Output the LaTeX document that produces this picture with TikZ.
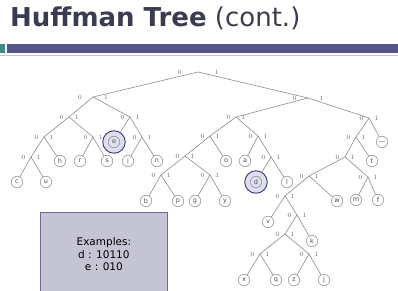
\documentclass[tikz,border=0pt]{standalone}
\usepackage{fontspec}
\newfontfamily\headfont{DejaVu Sans}
\newfontfamily\leaffont{DejaVu Sans}
\definecolor{titlec}{HTML}{3C3C50}
\definecolor{barblue}{HTML}{545488}
\definecolor{barteal}{HTML}{3D8A8A}
\definecolor{rulegray}{HTML}{C4C4C4}
\definecolor{edgec}{HTML}{8C8C8C}
\definecolor{leaftext}{HTML}{505050}
\definecolor{bitc}{HTML}{606060}
\definecolor{hlline}{HTML}{3A3A78}
\definecolor{hlfill}{HTML}{DEDEEE}
\definecolor{boxfill}{HTML}{C4C4D4}
\definecolor{boxline}{HTML}{6A6A9C}
\begin{document}
\begin{tikzpicture}[x=1pt,y=-1pt,
  edge/.style={draw=edgec, line width=0.6pt},
  leaf/.style={circle, draw=edgec, line width=0.5pt, minimum size=11.5pt, inner sep=0pt,
    font=\leaffont\fontsize{6.5}{6.5}\selectfont, text=leaftext},
  hl/.style={circle, draw=hlline, line width=0.9pt, fill=hlfill, minimum size=22.5pt, inner sep=0pt},
  bitlbl/.style={font=\fontsize{6.5}{6.5}\selectfont, text=bitc, inner sep=0pt},
  vtx/.style={shape=coordinate,
    label={[bitlbl,label distance=#1]180:0},
    label={[bitlbl,label distance=#1]0:1}},
  vtx/.default=5.5pt,
  exbox/.style={draw=boxline, fill=boxfill, line width=0.8pt, anchor=north west,
    minimum width=127pt, minimum height=84pt, align=center,
    font=\headfont\fontsize{10.5}{12.5}\selectfont}]
\useasboundingbox (0,0) rectangle (398,291);
\clip (0,0) rectangle (398,291);

% heading and rule bar
\node[anchor=base west, inner sep=0pt, text=titlec,
  font=\headfont\fontsize{26}{30}\selectfont] (title) at (10,27)
  {\textbf{Huffman Tree} (cont.)};
\fill[barteal] (0,44) rectangle (4.5,53);
\fill[barblue] (6.5,44) rectangle (398,53);
\fill[rulegray] (0,55) rectangle (398,56.5);

% internal vertices (with 0/1 branch labels)
\node[vtx=16.5pt] (root) at (198,72) {};
\node[vtx=11pt] (v0) at (93,97) {};
\node[vtx=11.5pt] (v1) at (308,98) {};
\node[vtx] (v00) at (69,117) {};
\node[vtx] (v01) at (130,117) {};
\node[vtx] (v000) at (44,137) {};
\node[vtx] (v001) at (93,137) {};
\node[vtx] (v011) at (142,137) {};
\node[vtx] (v0000) at (31,157) {};
\node[vtx] (v10) at (236,117) {};
\node[vtx] (v11) at (369,118) {};
\node[vtx] (v100) at (210,136) {};
\node[vtx] (v101) at (258,136) {};
\node[vtx] (v1000) at (185,156) {};
\node[vtx] (v10000) at (161,175) {};
\node[vtx] (v10001) at (210,175) {};
\node[vtx] (v1011) at (271,157) {};
\node[vtx] (v110) at (356,137) {};
\node[vtx] (v1100) at (345,157) {};
\node[vtx] (v11000) at (309,176) {};
\node[vtx] (v11001) at (368,177) {};
\node[vtx] (v110000) at (285,196) {};
\node[vtx] (v1100001) at (297,215) {};
\node[vtx] (vF) at (285,234) {};
\node[vtx] (vG) at (260,254) {};
\node[vtx] (vH) at (309,254) {};

% highlighted leaves
\node[hl] (e) at (114,142) {};
\node[leaf] (e-in) at (e) {e};
\node[hl] (d) at (256,182) {};
\node[leaf] (d-in) at (d) {d};

% leaves
\node[leaf] (c) at (17,182) {c};
\node[leaf] (u) at (46,182) {u};
\node[leaf] (h) at (60,161) {h};
\node[leaf] (r) at (80,161) {r};
\node[leaf] (s) at (107,161) {s};
\node[leaf] (i) at (128,161) {i};
\node[leaf] (n) at (157,161) {n};
\node[leaf] (b) at (146,201) {b};
\node[leaf] (p) at (178,201) {p};
\node[leaf] (g) at (195,201) {g};
\node[leaf] (y) at (225,201) {y};
\node[leaf] (o) at (226,161) {o};
\node[leaf] (a) at (245,161) {a};
\node[leaf] (l) at (287,182) {l};
\node[leaf] (sp) at (382,142) {—};
\node[leaf] (t) at (372,161) {t};
\node[leaf] (w) at (337,201) {w};
\node[leaf] (m) at (356,200) {m};
\node[leaf] (f) at (378,200) {f};
\node[leaf] (v) at (268,222) {v};
\node[leaf] (k) at (312,241) {k};
\node[leaf] (x) at (244,280) {x};
\node[leaf] (q) at (276,280) {q};
\node[leaf] (z) at (294,280) {z};
\node[leaf] (j) at (324,280) {j};

% branches
\foreach \a/\b in {root/v0, root/v1, v0/v00, v0/v01, v00/v000, v00/v001,
  v000/v0000, v000/h, v0000/c, v0000/u, v001/r, v001/s, v01/e, v01/v011,
  v011/i, v011/n, v1/v10, v1/v11, v10/v100, v10/v101, v100/v1000, v100/o,
  v1000/v10000, v1000/v10001, v10000/b, v10000/p, v10001/g, v10001/y,
  v101/a, v101/v1011, v1011/d, v1011/l, v11/v110, v11/sp, v110/v1100,
  v110/t, v1100/v11000, v1100/v11001, v11001/m, v11001/f, v11000/v110000,
  v11000/w, v110000/v, v110000/v1100001, v1100001/vF, v1100001/k,
  vF/vG, vF/vH, vG/x, vG/q, vH/z, vH/j}
  \draw[edge] (\a) -- (\b);

% examples box
\node[exbox] (ex) at (40,212) {Examples:\\d : 10110\\e : 010};
\end{tikzpicture}
\end{document}
